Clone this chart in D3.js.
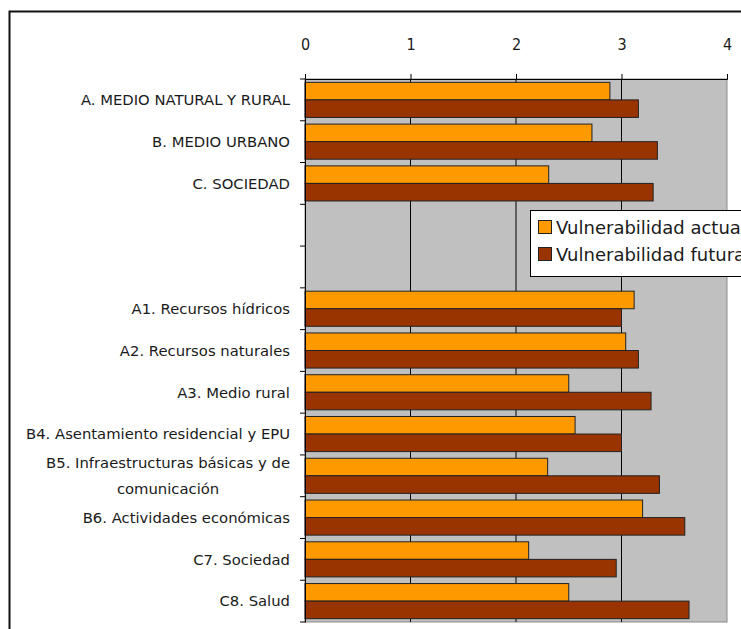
<!DOCTYPE html>
<html>
<head>
<meta charset="utf-8">
<script src="https://cdn.jsdelivr.net/npm/d3@7"></script>
<style>
  body { margin: 0; background: #fff; overflow: hidden; }
  svg text { font-family: "DejaVu Sans", Verdana, sans-serif; fill: #1a1a1a; }
</style>
</head>
<body>
<div id="viz"></div>
<script>
// categories (two empty slots separate the groups)
const categories = [
  "A. MEDIO NATURAL Y RURAL",
  "B. MEDIO URBANO",
  "C. SOCIEDAD",
  "",
  "",
  "A1. Recursos hídricos",
  "A2. Recursos naturales",
  "A3. Medio rural",
  "B4. Asentamiento residencial y EPU",
  "B5. Infraestructuras básicas y de|comunicación",
  "B6. Actividades económicas",
  "C7. Sociedad",
  "C8. Salud"
];
const actual = [2.89, 2.72, 2.31, null, null, 3.12, 3.04, 2.50, 2.56, 2.30, 3.20, 2.12, 2.50];
const futura = [3.16, 3.34, 3.30, null, null, 3.00, 3.16, 3.28, 3.00, 3.36, 3.60, 2.95, 3.64];
const seriesNames = ["Vulnerabilidad actual", "Vulnerabilidad futura"];
const xTicks = [0, 1, 2, 3, 4];

const colors = ["#FF9900", "#993300"];

const W = 741, H = 629;
const plot = {left: 305, right: 727, top: 79, bottom: 622};

const svg = d3.select("#viz").append("svg")
  .attr("width", W).attr("height", H);

// outer frame
svg.append("rect")
  .attr("x", 9.5).attr("y", 11.5)
  .attr("width", 800).attr("height", 700)
  .attr("fill", "none").attr("stroke", "#111").attr("stroke-width", 2);

const x = d3.scaleLinear().domain([0, 4]).range([plot.left, plot.right]);
const y = d3.scaleBand()
  .domain(d3.range(categories.length))
  .range([plot.top, plot.bottom]);
const inner = d3.scaleBand().domain([0, 1])
  .range([0, y.bandwidth()]).paddingOuter(0.19);

// plot background
svg.append("rect")
  .attr("x", plot.left).attr("y", plot.top)
  .attr("width", plot.right - plot.left).attr("height", plot.bottom - plot.top)
  .attr("fill", "#C0C0C0").attr("stroke", "#8a8a8a").attr("stroke-width", 1);

// vertical gridlines
svg.append("g").selectAll("line")
  .data(xTicks.slice(1, -1))
  .enter().append("line")
  .attr("x1", d => x(d)).attr("x2", d => x(d))
  .attr("y1", plot.top).attr("y2", plot.bottom)
  .attr("stroke", "#000").attr("stroke-width", 1);

// bars
const series = [actual, futura];
series.forEach((vals, s) => {
  svg.append("g").selectAll("rect")
    .data(vals.map((v, i) => ({v, i})).filter(d => d.v !== null))
    .enter().append("rect")
    .attr("x", x(0))
    .attr("y", d => y(d.i) + inner(s))
    .attr("width", d => x(d.v) - x(0))
    .attr("height", inner.bandwidth())
    .attr("fill", colors[s])
    .attr("stroke", "#222").attr("stroke-width", 1);
});

// top axis
const xAxis = svg.append("g")
  .attr("transform", `translate(0,${plot.top})`)
  .call(d3.axisTop(x).tickValues(xTicks).tickSize(5).tickPadding(24).tickFormat(d3.format("d")));
xAxis.select(".domain").attr("stroke", "#000");
xAxis.selectAll("text")
  .style("font-family", "'DejaVu Sans Condensed', 'DejaVu Sans', sans-serif")
  .style("font-size", "16px").attr("fill", "#1a1a1a");

// left axis
const yAxis = svg.append("g")
  .attr("transform", `translate(${plot.left},0)`)
  .call(d3.axisLeft(y).tickValues([]).tickSize(0));
yAxis.select(".domain").attr("stroke", "#000");
svg.append("g").selectAll("line")
  .data(d3.range(categories.length + 1))
  .enter().append("line")
  .attr("x1", plot.left - 5).attr("x2", plot.left)
  .attr("y1", i => plot.top + i * y.step()).attr("y2", i => plot.top + i * y.step())
  .attr("stroke", "#000");

// category labels
const labelX = 290;
const labelSize = "14.8px";
categories.forEach((c, i) => {
  if (!c) return;
  const lines = c.split("|");
  const cy = y(i) + y.bandwidth() / 2;
  if (lines.length === 1) {
    svg.append("text")
      .attr("x", labelX).attr("y", cy)
      .attr("dy", "0.36em")
      .attr("text-anchor", "end")
      .style("font-size", labelSize)
      .text(c);
  } else {
    const t = svg.append("text").attr("x", labelX).attr("y", cy - 13).attr("dy", "0.36em").attr("text-anchor", "end").style("font-size", labelSize).text(lines[0]);
    const w = t.node().getComputedTextLength();
    t.attr("text-anchor", "middle").attr("x", labelX - w / 2);
    svg.append("text")
      .attr("x", labelX - w / 2).attr("y", cy + 13)
      .attr("dy", "0.36em")
      .attr("text-anchor", "middle")
      .style("font-size", labelSize)
      .text(lines[1]);
  }
});

// legend
const legend = svg.append("g").attr("transform", "translate(530,210)");
legend.append("rect")
  .attr("x", 0.5).attr("y", 0.5).attr("width", 260).attr("height", 66)
  .attr("fill", "#fff").attr("stroke", "#000");
seriesNames.forEach((n, s) => {
  legend.append("rect")
    .attr("x", 8.5).attr("y", 10.5 + s * 27)
    .attr("width", 13).attr("height", 13)
    .attr("fill", colors[s]).attr("stroke", "#222");
  legend.append("text")
    .attr("x", 26).attr("y", 24 + s * 27)
    .style("font-size", "18px")
    .text(n);
});
</script>
</body>
</html>
